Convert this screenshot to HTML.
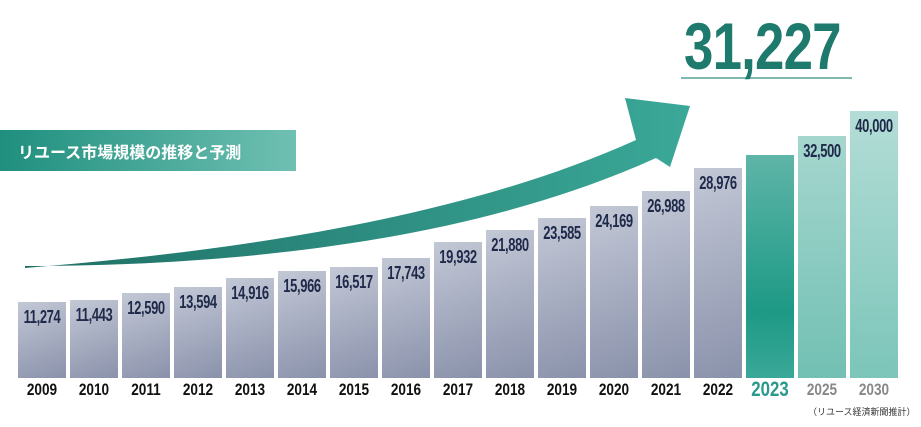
<!DOCTYPE html>
<html><head><meta charset="utf-8"><style>
body{margin:0;width:921px;height:427px;background:#fff;position:relative;overflow:hidden;font-family:"Liberation Sans",sans-serif}
.bar{position:absolute;width:48px;bottom:49px;background:linear-gradient(160deg,#c3c8d6,#8a92ab)}
.v{position:absolute;width:52px;margin-left:-2px;text-align:center;font-size:18px;font-weight:bold;color:#1f2a4a;transform:scaleX(0.72);letter-spacing:-0.5px}
.y{position:absolute;width:48px;text-align:center;top:380px;font-size:17px;font-weight:bold;color:#111;transform:scaleX(0.8)}
</style></head><body>
<div style="position:absolute;left:0;top:130px;width:296px;height:41px;background:linear-gradient(90deg,#1f8f7e,#6fc0b2)"></div>
<div style="position:absolute;left:18px;top:139px;font-family:'Liberation Sans','Noto Sans CJK JP',sans-serif;font-weight:bold;font-size:16px;color:#fff">リユース市場規模の推移と予測</div>
<svg width="921" height="427" style="position:absolute;left:0;top:0">
<defs><linearGradient id="g" x1="0" x2="1"><stop offset="0" stop-color="#1f6f66"/><stop offset="1" stop-color="#3aa898"/></linearGradient></defs>
<path d="M25,268 C250,250 470,215 636,140 L625,98 L690,106 L670,167 L656,158 C480,238 250,266 25,266 Z" fill="url(#g)"/>
<line x1="681" y1="78" x2="852" y2="78" stroke="#7fb8b0" stroke-width="2"/>
</svg>
<div style="position:absolute;left:684px;top:8px;font-size:66px;font-weight:bold;color:#1e7a6c;letter-spacing:-1px;transform:scaleX(0.8);transform-origin:0 0">31,227</div>
<div id="c"></div>
<div style="position:absolute;left:808px;top:405px;font-size:9px;color:#333;font-family:'Liberation Sans','Noto Sans CJK JP',sans-serif">（リユース経済新聞推計）</div>
<script>
var d=[["2009",302,"11,274"],["2010",300,"11,443"],["2011",293,"12,590"],["2012",287,"13,594"],["2013",278,"14,916"],["2014",271,"15,966"],["2015",267,"16,517"],["2016",258,"17,743"],["2017",242,"19,932"],["2018",230,"21,880"],["2019",218,"23,585"],["2020",206,"24,169"],["2021",191,"26,988"],["2022",168,"28,976"],["2023",155,""],["2025",136,"32,500"],["2030",111,"40,000"]];
var h="";d.forEach(function(e,i){var x=18+i*52,bg="",yc="#111",fs=17;
if(i==14){bg="background:linear-gradient(180deg,#5fb5a8,#1d9985 70%,#3aa898);";yc="#2a9a8a";fs=21}
if(i==15){bg="background:linear-gradient(180deg,#a5d6ce,#72c0b3);";yc="#888"}
if(i==16){bg="background:linear-gradient(180deg,#b3ddd6,#7cc5b9);";yc="#888"}
h+='<div class="bar" style="left:'+x+'px;top:'+e[1]+'px;'+bg+'"></div>';
if(e[2])h+='<div class="v" style="left:'+x+'px;top:'+(e[1]+5)+'px">'+e[2]+'</div>';
h+='<div class="y" style="left:'+x+'px;color:'+yc+';font-size:'+fs+'px;'+(i==14?'top:378px':'')+'">'+e[0]+'</div>';});
document.getElementById("c").innerHTML=h;
</script>
</body></html>
